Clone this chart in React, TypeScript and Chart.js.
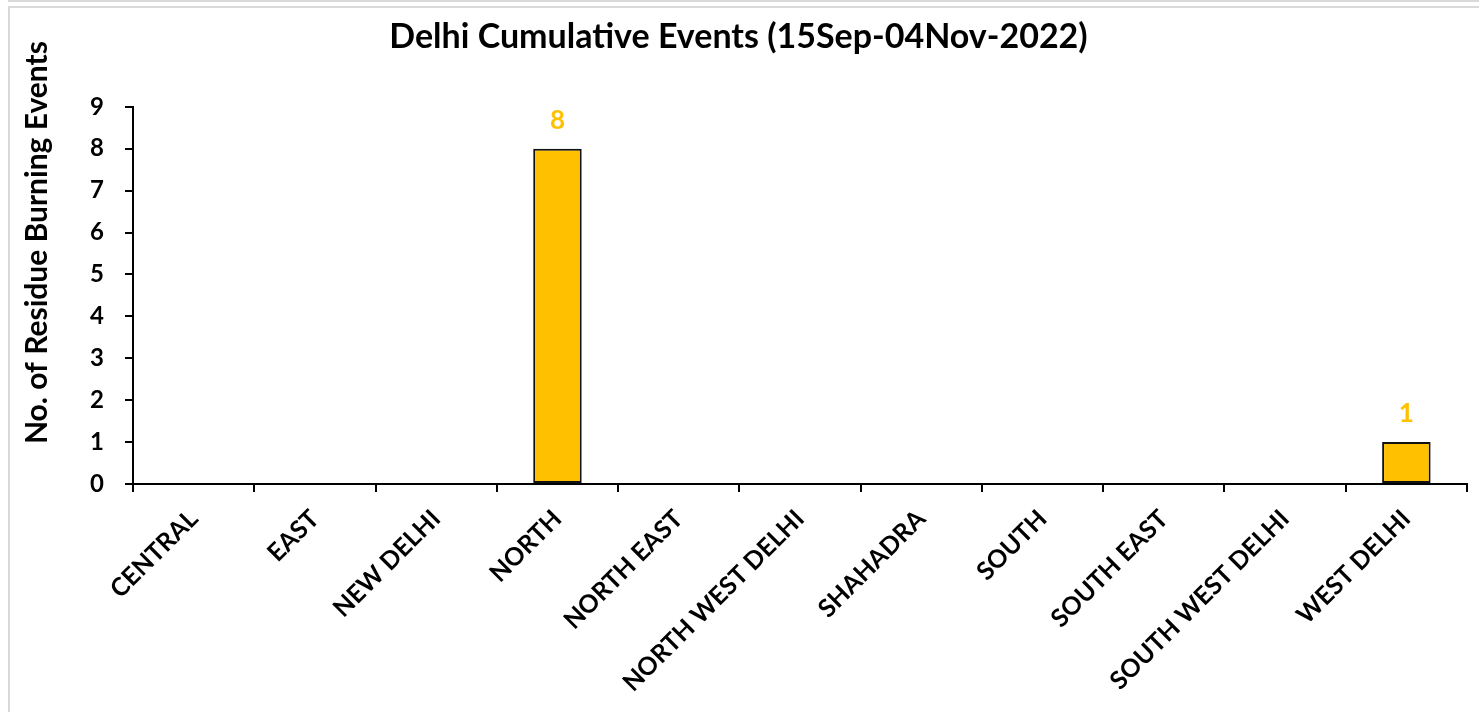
import React, { useEffect, useRef } from "react";
import { Chart, registerables } from "chart.js";

Chart.register(...registerables);

const categories = [
  "CENTRAL",
  "EAST",
  "NEW DELHI",
  "NORTH",
  "NORTH EAST",
  "NORTH WEST DELHI",
  "SHAHADRA",
  "SOUTH",
  "SOUTH EAST",
  "SOUTH WEST DELHI",
  "WEST DELHI",
];
const events = [0, 0, 0, 8, 0, 0, 0, 0, 0, 0, 1];
const chartTitle = "Delhi Cumulative Events (15Sep-04Nov-2022)";
const yAxisTitle = "No. of Residue Burning Events";
const yMin = 0;
const yMax = 9;
const yStep = 1;

const FONT = "Lato, 'Open Sans', sans-serif";
const BAR_COLOR = "#FFC000";

const valueLabelPlugin = {
  id: "valueLabels",
  afterDatasetsDraw(chart: any) {
    const ctx = chart.ctx;
    const meta = chart.getDatasetMeta(0);
    const data = chart.data.datasets[0].data as number[];
    ctx.save();
    ctx.fillStyle = BAR_COLOR;
    ctx.font = `bold 26px ${FONT}`;
    ctx.textAlign = "center";
    ctx.textBaseline = "middle";
    meta.data.forEach((el: any, i: number) => {
      const v = data[i];
      if (v && v > 0) {
        ctx.fillText(String(v), el.x, el.y - 28);
      }
    });
    ctx.restore();
  },
};

// Y-axis title drawn by hand: in the reference it sits above the axis centre
const yTitlePlugin = {
  id: "yTitleOffset",
  afterDraw(chart: any) {
    const ctx = chart.ctx;
    const area = chart.chartArea;
    ctx.save();
    ctx.fillStyle = "#000";
    ctx.font = `bold 30px ${FONT}`;
    ctx.textAlign = "center";
    ctx.textBaseline = "middle";
    ctx.translate(37, area.top + (area.bottom - area.top) * 0.36);
    ctx.rotate(-Math.PI / 2);
    ctx.fillText(yAxisTitle, 0, 0);
    ctx.restore();
  },
};

export default function App() {
  const ref = useRef<HTMLCanvasElement | null>(null);

  useEffect(() => {
    if (!ref.current) return;
    Chart.defaults.font.family = FONT;
    const chart = new Chart(ref.current, {
      type: "bar",
      data: {
        labels: categories,
        datasets: [
          {
            data: events,
            backgroundColor: BAR_COLOR,
            borderColor: "#111",
            borderWidth: (c: any) => (c.raw ? 2 : 0),
            borderSkipped: false,
            barPercentage: 0.4,
            categoryPercentage: 1,
          },
        ],
      },
      options: {
        animation: false,
        responsive: false,
        maintainAspectRatio: false,
        layout: { padding: { left: 10, right: 12, top: 0, bottom: 0 } },
        plugins: {
          legend: { display: false },
          tooltip: { enabled: false },
          title: {
            display: true,
            text: chartTitle,
            color: "#000",
            font: { family: FONT, size: 34, weight: "bold" },
            padding: { top: 17, bottom: 49 },
          },
        },
        scales: {
          x: {
            offset: true,
            grid: {
              offset: true,
              drawOnChartArea: false,
              drawTicks: true,
              tickLength: 8,
              color: "#000",
              lineWidth: 2,
            },
            border: { display: true, color: "#000", width: 2 },
            ticks: {
              autoSkip: false,
              maxRotation: 45,
              minRotation: 45,
              color: "#000",
              padding: 12,
              font: { family: FONT, size: 25, weight: "bold" },
            },
            afterFit: (s: any) => {
              s.height = 228;
            },
          },
          y: {
            min: yMin,
            max: yMax,
            ticks: {
              stepSize: yStep,
              padding: 21,
              color: "#000",
              font: { family: FONT, size: 24, weight: "bold" },
            },
            grid: {
              drawOnChartArea: false,
              drawTicks: true,
              tickLength: 8,
              color: "#000",
              lineWidth: 2,
            },
            border: { display: true, color: "#000", width: 2 },
            title: { display: false, text: yAxisTitle },
            afterFit: (s: any) => {
              s.width = 123;
            },
          },
        },
      },
      plugins: [valueLabelPlugin, yTitlePlugin],
    } as any);
    return () => chart.destroy();
  }, []);

  return (
    <div style={{ position: "fixed", left: 0, top: 0, width: 1479, height: 712, background: "#fff", overflow: "hidden" }}>
      <div
        style={{
          position: "absolute",
          left: 8,
          top: -18,
          width: 2000,
          height: 20,
          boxSizing: "border-box",
          border: "2px solid #d9d9d9",
        }}
      />
      <div
        style={{
          position: "absolute",
          left: 8,
          top: 6,
          width: 2000,
          height: 2000,
          boxSizing: "border-box",
          border: "2px solid #d9d9d9",
        }}
      />
      <canvas
        ref={ref}
        width={1479}
        height={712}
        style={{ position: "absolute", left: 0, top: 0, width: 1479, height: 712, display: "block" }}
      />
    </div>
  );
}
